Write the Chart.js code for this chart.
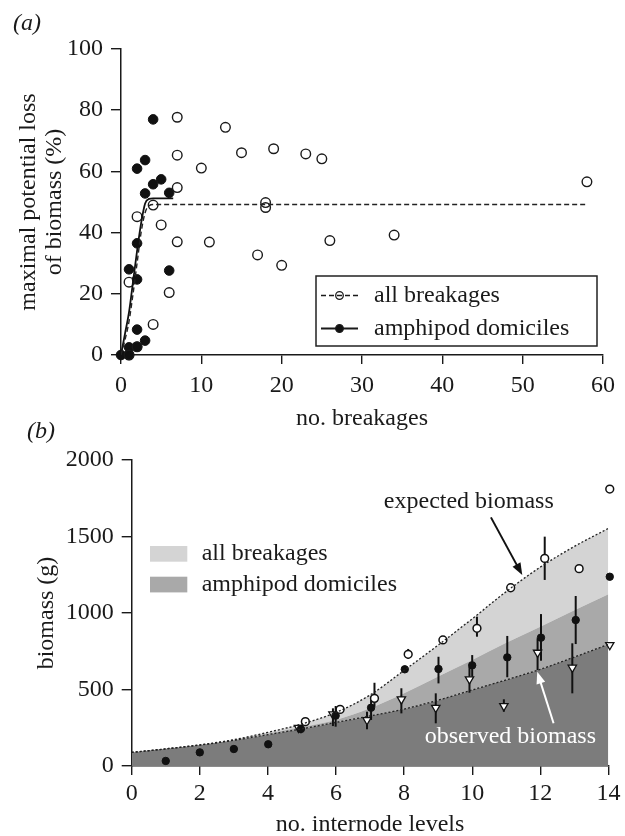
<!DOCTYPE html>
<html>
<head>
<meta charset="utf-8">
<title>Biomass loss by breakages</title>
<script src="https://cdn.jsdelivr.net/npm/chart.js@4.4.1/dist/chart.umd.min.js"></script>
<style>
  html, body { margin: 0; padding: 0; background: #fff; overflow: hidden; }
  body { width: 625px; height: 836px; position: relative; }
  #panelA { position: absolute; left: 0; top: 0; width: 625px; height: 440px; }
  #panelB { position: absolute; left: 0; top: 420px; width: 625px; height: 440px; }
</style>
</head>
<body>
<canvas id="panelA" width="625" height="440"></canvas>
<canvas id="panelB" width="625" height="440"></canvas>
<script>
/* (a) no. breakages vs maximal potential loss of biomass */
const breakAllX = [1, 1, 2, 2, 4, 4, 5, 6, 7, 7, 7, 7, 10, 11, 13, 15, 17, 18, 18, 19, 20, 23, 25, 26, 34, 58];
const breakAllY = [0, 23.8, 2.7, 45.2, 10, 49, 42.5, 20.4, 77.7, 65.3, 54.7, 37, 61.1, 36.9, 74.4, 66.1, 32.7, 49.8, 48.2, 67.4, 29.3, 65.7, 64.1, 37.4, 39.2, 56.6];
const domX = [0, 1, 1, 1, 2, 2, 2, 2, 2, 3, 3, 3, 4, 4, 5, 6, 6];
const domY = [0, 0, 2.5, 28, 2.7, 8.3, 24.7, 36.5, 60.9, 4.7, 52.8, 63.7, 55.8, 77, 57.4, 27.6, 53];
// fitted curves
const fitAllX = [0, 0.5, 1, 1.5, 2, 2.5, 3, 3.5, 4, 58];
const fitAllY = [0, 5, 11, 20, 30, 40, 46.5, 48.8, 49.2, 49.2];
const fitDomX = [0, 0.5, 1, 1.5, 2, 2.5, 3, 3.5, 4, 6.5];
const fitDomY = [0, 7, 14, 24, 34, 43, 49.5, 51, 51.2, 51.2];

/* (b) no. internode levels vs biomass (g) */
const levels = [0, 1, 2, 3, 4, 5, 6, 7, 8, 9, 10, 11, 12, 13, 14];
const expectedFit = [89, 112, 138, 172, 220, 275, 350, 464, 625, 790, 962, 1140, 1300, 1435, 1553];
const domFit = [89, 112, 137, 170, 212, 255, 301, 377, 475, 585, 693, 805, 910, 1018, 1122];
const observedFit = [89, 112, 137, 168, 205, 243, 285, 327, 372, 430, 497, 563, 632, 712, 795];

const allBrkX = [5.1, 6.12, 7.13, 8.12, 9.14, 10.14, 11.13, 12.13, 13.14, 14.04];
const allBrkY = [290, 370, 442, 730, 824, 900, 1165, 1357, 1290, 1810];
const allBrkLo = [null, null, 388, 700, null, 845, null, 1216, null, null];
const allBrkHi = [null, null, 544, 765, null, 976, null, 1499, null, null];

const ampX = [1, 2, 3, 4.01, 4.97, 5.99, 7.03, 8.02, 9.01, 10, 11.03, 12.02, 13.04, 14.04];
const ampY = [33, 89, 111, 142, 242, 329, 381, 632, 634, 658, 710, 839, 954, 1237];
const ampLo = [null, null, null, null, 214, 257, 301, 610, 540, 580, 580, 688, 797, null];
const ampHi = [null, null, null, null, 268, 392, 453, 655, 714, 725, 850, 993, 1111, null];

const obsX = [4.9, 5.91, 6.91, 7.92, 8.93, 9.92, 10.93, 11.92, 12.94, 14.04];
const obsY = [250, 338, 301, 436, 381, 567, 392, 741, 643, 791];
const obsLo = [225, 261, 240, 344, 279, 479, 355, 627, 475, null];
const obsHi = [270, 377, 355, 508, 475, 649, 436, 835, 802, null];

const SERIF = "'Liberation Serif', 'Times New Roman', serif";
Chart.defaults.font.family = SERIF;
Chart.defaults.font.size = 24;
Chart.defaults.color = '#1a1a1a';

function pairs(xs, ys) {
  return xs.map((x, i) => ({ x: x, y: ys[i] }));
}

function arrow(ctx, x1, y1, x2, y2, color) {
  const a = Math.atan2(y2 - y1, x2 - x1);
  ctx.strokeStyle = color; ctx.fillStyle = color; ctx.lineWidth = 2;
  ctx.beginPath();
  ctx.moveTo(x1, y1);
  ctx.lineTo(x2 - 9 * Math.cos(a), y2 - 9 * Math.sin(a));
  ctx.stroke();
  ctx.beginPath();
  ctx.moveTo(x2, y2);
  ctx.lineTo(x2 - 12 * Math.cos(a) + 4.5 * Math.sin(a), y2 - 12 * Math.sin(a) - 4.5 * Math.cos(a));
  ctx.lineTo(x2 - 12 * Math.cos(a) - 4.5 * Math.sin(a), y2 - 12 * Math.sin(a) + 4.5 * Math.cos(a));
  ctx.closePath();
  ctx.fill();
}

//panel letter
function panelLetter(letter, x, y) {
  return {
    id: 'letter' + letter,
    afterDraw(chart) {
      const ctx = chart.ctx;
      ctx.save();
      ctx.fillStyle = '#1a1a1a';
      ctx.font = 'italic 24px ' + SERIF;
      ctx.textBaseline = 'middle';
      ctx.fillText('(' + letter + ')', x, y);
      ctx.restore();
    }
  };
}

//vertical error bars, from the lo/hi arrays of a dataset
const errorBars = {
  id: 'errorBars',
  beforeDatasetsDraw(chart) {
    const { ctx, scales: { x, y } } = chart;
    ctx.save();
    ctx.strokeStyle = '#111';
    ctx.lineWidth = 2;
    chart.data.datasets.forEach(ds => {
      if (!ds.lo) return;
      ds.data.forEach((p, i) => {
        if (ds.lo[i] == null) return;
        const px = x.getPixelForValue(p.x);
        ctx.beginPath();
        ctx.moveTo(px, y.getPixelForValue(ds.lo[i]));
        ctx.lineTo(px, y.getPixelForValue(ds.hi[i]));
        ctx.stroke();
      });
    });
    ctx.restore();
  }
};

//legend of panel a: line + marker
const legendA = {
  id: 'legendA',
  afterDatasetsDraw(chart) {
    const { ctx, chartArea } = chart;
    const ds = chart.data.datasets;
    const bw = 281, bh = 70;
    const bx = chartArea.right - 6 - bw, by = chartArea.bottom - 9 - bh;
    ctx.save();
    ctx.fillStyle = '#fff';
    ctx.fillRect(bx, by, bw, bh);
    ctx.strokeStyle = '#222';
    ctx.lineWidth = 1.5;
    ctx.strokeRect(bx, by, bw, bh);
    [[0, 2], [1, 3]].forEach(([li, pi], r) => {
      const cy = by + 19.5 + r * 33;
      ctx.strokeStyle = '#1a1a1a';
      ctx.setLineDash(ds[li].borderDash || []);
      ctx.lineWidth = ds[li].borderWidth;
      ctx.beginPath(); ctx.moveTo(bx + 5, cy); ctx.lineTo(bx + 42, cy); ctx.stroke();
      ctx.setLineDash([]);
      ctx.beginPath(); ctx.arc(bx + 23.5, cy, 3.8, 0, Math.PI * 2);
      ctx.fillStyle = ds[pi].pointBackgroundColor; ctx.fill();
      ctx.lineWidth = 1.3; ctx.stroke();
      ctx.fillStyle = '#1a1a1a';
      ctx.font = '24px ' + SERIF;
      ctx.textBaseline = 'middle';
      ctx.textAlign = 'left';
      ctx.fillText(ds[li].label, bx + 58, cy);
    });
    ctx.restore();
  }
};

//legend + arrows of panel b
const notesB = {
  id: 'notesB',
  afterDraw(chart) {
    const { ctx, chartArea, scales: { x, y } } = chart;
    const ds = chart.data.datasets;
    ctx.save();
    ctx.font = '24px ' + SERIF;
    ctx.textBaseline = 'middle';
    ctx.textAlign = 'left';
    [2, 1].forEach((di, r) => {
      const top = chartArea.top + 86 + r * 30.7;
      ctx.fillStyle = ds[di].backgroundColor;
      ctx.fillRect(chartArea.left + 18.3, top, 37.3, 15.7);
      ctx.fillStyle = '#1a1a1a';
      ctx.fillText(ds[di].label, chartArea.left + 70, top + 7.8);
    });
    ctx.textAlign = 'center';
    ctx.fillText('expected biomass', x.getPixelForValue(9.9), y.getPixelForValue(1725));
    arrow(ctx, x.getPixelForValue(10.55), y.getPixelForValue(1625), x.getPixelForValue(11.47), y.getPixelForValue(1248), '#111');
    ctx.fillStyle = '#fff';
    ctx.fillText('observed biomass', x.getPixelForValue(11.12), y.getPixelForValue(190));
    arrow(ctx, x.getPixelForValue(12.39), y.getPixelForValue(279), x.getPixelForValue(11.91), y.getPixelForValue(616), '#fff');
    ctx.restore();
  }
};

function axis(min, max, step, tickLen, tickPad, title, titlePad, fit) {
  return {
    type: 'linear', min: min, max: max,
    ticks: { stepSize: step, padding: tickPad, color: '#1a1a1a', font: { size: 24 }, format: { useGrouping: false } },
    grid: { drawOnChartArea: false, drawTicks: true, tickLength: tickLen, color: '#1a1a1a', lineWidth: 1.4 },
    border: { display: true, color: '#1a1a1a', width: 1.5 },
    title: { display: true, text: title, color: '#1a1a1a', padding: titlePad, font: { size: 24, lineHeight: 1.2 } },
    afterFit: fit
  };
}

//Panel (a)
const yA = axis(0, 100, 20, 10, 8, ['maximal potential loss', 'of biomass (%)'], { top: 16 }, s => { s.width = 121; });
yA.title.font.lineHeight = 26 / 24;
new Chart(document.getElementById('panelA'), {
  type: 'line',
  data: {
    datasets: [
      { label: 'all breakages', data: pairs(fitAllX, fitAllY), borderColor: '#222', borderWidth: 1.4, borderDash: [5, 3], pointRadius: 0, cubicInterpolationMode: 'monotone', fill: false },
      { label: 'amphipod domiciles', data: pairs(fitDomX, fitDomY), borderColor: '#111', borderWidth: 1.8, pointRadius: 0, cubicInterpolationMode: 'monotone', fill: false },
      { label: 'all breakages (data)', data: pairs(breakAllX, breakAllY), showLine: false, pointRadius: 4.8, pointBorderWidth: 1.4, pointBorderColor: '#1a1a1a', pointBackgroundColor: 'rgba(255,255,255,0)', clip: false },
      { label: 'amphipod domiciles (data)', data: pairs(domX, domY), showLine: false, pointRadius: 4.8, pointBorderWidth: 1, pointBorderColor: '#111', pointBackgroundColor: '#111', clip: false }
    ]
  },
  options: {
    responsive: false,
    animation: false,
    events: [],
    layout: { padding: { top: 49, right: 22, left: 0, bottom: 0 } },
    plugins: { legend: { display: false }, tooltip: { enabled: false } },
    scales: {
      x: axis(0, 60, 10, 9, 7.6, 'no. breakages', { bottom: 7.2 }, s => { s.height = 85; }),
      y: yA
    }
  },
  plugins: [legendA, panelLetter('a', 13, 24)]
});

//Panel (b)
const xB = axis(0, 14, 2, 9, 4.6, 'no. internode levels', { bottom: 20.6 }, s => { s.height = 94; });
const yB = axis(0, 2000, 500, 10, 8, 'biomass (g)', { top: 32.6 }, s => { s.width = 131.7; });
xB.z = 1;
yB.z = 1;
new Chart(document.getElementById('panelB'), {
  type: 'line',
  data: {
    datasets: [
      { label: 'observed biomass', data: pairs(levels, observedFit), borderColor: '#222', borderWidth: 1.3, borderDash: [2, 2], pointRadius: 0, cubicInterpolationMode: 'monotone', fill: 'origin', backgroundColor: '#7c7c7c' },
      { label: 'amphipod domiciles', data: pairs(levels, domFit), borderColor: 'rgba(0,0,0,0)', borderWidth: 0, pointRadius: 0, cubicInterpolationMode: 'monotone', fill: 0, backgroundColor: '#a9a9a9' },
      { label: 'all breakages', data: pairs(levels, expectedFit), borderColor: '#222', borderWidth: 1.3, borderDash: [2, 2], pointRadius: 0, cubicInterpolationMode: 'monotone', fill: 1, backgroundColor: '#d4d4d4' },
      { label: 'all breakages (data)', data: pairs(allBrkX, allBrkY), lo: allBrkLo, hi: allBrkHi, showLine: false, pointRadius: 3.9, pointBorderWidth: 1.5, pointBorderColor: '#111', pointBackgroundColor: '#fff', clip: false },
      { label: 'amphipod domiciles (data)', data: pairs(ampX, ampY), lo: ampLo, hi: ampHi, showLine: false, pointRadius: 3.7, pointBorderWidth: 1, pointBorderColor: '#111', pointBackgroundColor: '#111', clip: false },
      { label: 'observed (data)', data: pairs(obsX, obsY), lo: obsLo, hi: obsHi, showLine: false, pointStyle: 'triangle', pointRotation: 180, pointRadius: 4.8, pointBorderWidth: 1.3, pointBorderColor: '#111', pointBackgroundColor: '#fff', clip: false }
    ]
  },
  options: {
    responsive: false,
    animation: false,
    events: [],
    layout: { padding: { top: 40, right: 13.3, left: 0, bottom: 0 } },
    plugins: { legend: { display: false }, tooltip: { enabled: false }, filler: { drawTime: 'beforeDatasetsDraw' } },
    scales: { x: xB, y: yB }
  },
  plugins: [errorBars, notesB, panelLetter('b', 27, 12)]
});
</script>
</body>
</html>
